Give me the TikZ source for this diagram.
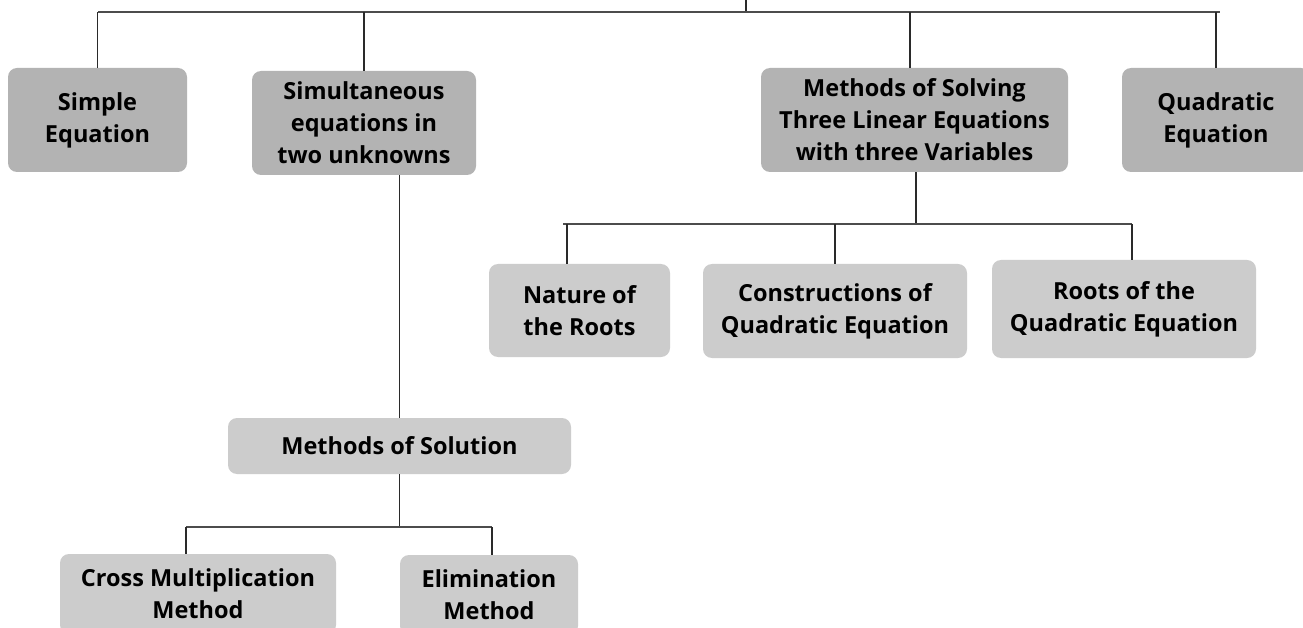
\documentclass[tikz,border=0pt]{standalone}
\usepackage{fontspec}
\setmainfont{Open Sans}
\definecolor{darkbox}{HTML}{B3B3B3}
\definecolor{lightbox}{HTML}{CCCCCC}
\definecolor{linec}{HTML}{2A2A2A}
\begin{document}
\begin{tikzpicture}[x=1pt,y=-1pt,
  box/.style={rectangle,rounded corners=9pt,inner sep=0pt,align=center,
    font=\bfseries\fontsize{23.5}{32}\selectfont,text=black},
  dbox/.style={box,fill=darkbox},
  lbox/.style={box,fill=lightbox},
  conn/.style={draw=linec,line width=1.2pt},
  bus/.style={draw=black!70,line width=1.6pt}]
\useasboundingbox (0,0) rectangle (1303,628);
\fill[white] (0,0) rectangle (1303,628);
% top level
\node[dbox,minimum width=179pt,minimum height=104pt] (se) at (97.5,120) {Simple\\Equation};
\node[dbox,minimum width=224pt,minimum height=104pt] (sim) at (364,123) {Simultaneous\\equations in\\two unknowns};
\node[dbox,minimum width=307pt,minimum height=104pt] (msolv) at (914.5,120) {Methods of Solving\\Three Linear Equations\\with three Variables};
\node[dbox,minimum width=188pt,minimum height=104pt] (quad) at (1216,120) {Quadratic\\Equation};
% second level right
\node[lbox,minimum width=181pt,minimum height=93pt] (nat) at (579.5,310.5) {Nature of\\the Roots};
\node[lbox,minimum width=264pt,minimum height=94pt] (con) at (835,311) {Constructions of\\Quadratic Equation};
\node[lbox,minimum width=264pt,minimum height=98pt] (roots) at (1124,309) {Roots of the\\Quadratic Equation};
% left branch
\node[lbox,minimum width=343pt,minimum height=56pt] (mos) at (399.5,446) {Methods of Solution};
\node[lbox,minimum width=276pt,minimum height=80pt] (cross) at (198,594) {Cross Multiplication\\Method};
\node[lbox,minimum width=178pt,minimum height=80pt] (elim) at (489,595) {Elimination\\Method};
% bus coordinates
\coordinate (top) at (746,0);
\coordinate (topbus) at (746,12);
\coordinate (tl) at (98,12);
\coordinate (tr) at (1220,12);
\coordinate (rbus) at (916,224);
\coordinate (rl) at (563,224);
\coordinate (rr) at (1132,224);
\coordinate (ll) at (186,527);
\coordinate (lr) at (492,527);
% connectors
\draw[conn] (top) -- (topbus);
\draw[bus] (tl) -- (tr);
\draw[conn] (se.north) -- (se.north |- tl);
\draw[conn] (sim.north) -- (sim.north |- tl);
\draw[conn] ([xshift=-4.5pt]msolv.north) -- ([xshift=-4.5pt]msolv.north |- tl);
\draw[conn] (quad.north) -- (quad.north |- tl);
\draw[conn] (mos.north) -- (mos.north |- sim.south);
\draw[conn] ([xshift=1.5pt]msolv.south) -- (rbus);
\draw[bus] (rl) -- (rr);
\draw[conn] ([xshift=-12.5pt]nat.north) -- ([xshift=-12.5pt]nat.north |- rl);
\draw[conn] (con.north) -- (con.north |- rl);
\draw[conn] (roots.north -| rr) -- (rr);
\draw[conn] (mos.south) -- (mos.south |- ll);
\draw[bus] (ll) -- (lr);
\draw[conn] (cross.north -| ll) -- (ll);
\draw[conn] (elim.north -| lr) -- (lr);
\end{tikzpicture}
\end{document}
